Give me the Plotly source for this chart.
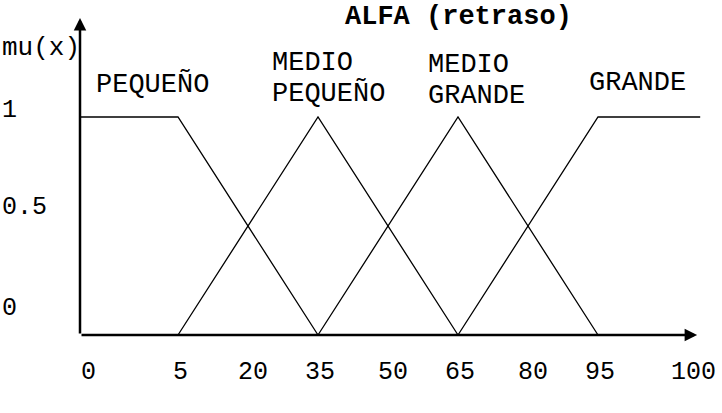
import numpy as np
import plotly.graph_objects as go

# ---- data -----------------------------------------------------------
title_text = "ALFA (retraso)"
y_axis_label = "mu(x)"

pequeno_x = [0, 5, 35]
pequeno_mu = [1, 1, 0]
medio_pequeno_x = [5, 35, 65]
medio_pequeno_mu = [0, 1, 0]
medio_grande_x = [35, 65, 95]
medio_grande_mu = [0, 1, 0]
grande_x = [65, 95, 100]
grande_mu = [0, 1, 1]

x_tick_values = [0, 5, 20, 35, 50, 65, 80, 95, 100]
y_tick_values = [1, 0.5, 0]
y_tick_labels = ["1", "0.5", "0"]

# ---- scale (end segments 0-5 and 95-100 are drawn stretched) ---------
def disp(v):
    return np.interp(v, [0, 5, 95, 100], [-16, 5, 95, 116.9])

FONT = "Liberation Mono, Courier New, monospace"
W, H = 722, 413

fig = go.Figure()
for xs, mus in [(pequeno_x, pequeno_mu), (medio_pequeno_x, medio_pequeno_mu),
                (medio_grande_x, medio_grande_mu), (grande_x, grande_mu)]:
    fig.add_trace(go.Scatter(x=disp(xs), y=mus, mode="lines",
                             line=dict(color="black", width=1.3),
                             hoverinfo="skip", showlegend=False))

annotations = []
# axes with arrows
annotations.append(dict(x=disp(99.85), y=0, ax=disp(0), ay=0, xref="x", yref="y",
                        axref="x", ayref="y", text="", showarrow=True,
                        arrowhead=2, arrowsize=1, arrowwidth=2.5, arrowcolor="black"))
annotations.append(dict(x=disp(0), y=1.454, ax=disp(0), ay=0, xref="x", yref="y",
                        axref="x", ayref="y", text="", showarrow=True,
                        arrowhead=2, arrowsize=1, arrowwidth=2.5, arrowcolor="black"))

def px(xp, yp, text, size, anchor="center", bold=False):
    return dict(x=xp / W, y=1 - yp / H, xref="paper", yref="paper",
                text=("<b>%s</b>" % text) if bold else text, showarrow=False,
                xanchor=anchor, yanchor="middle",
                font=dict(family=FONT, size=size, color="black"))

# title and y label
annotations.append(px(458, 17, title_text, 27, bold=True))
annotations.append(px(0, 48, y_axis_label, 26, anchor="left"))

# set names
annotations.append(px(94, 84, "PEQUEÑO", 27, anchor="left"))
annotations.append(px(270, 63, "MEDIO", 27, anchor="left"))
annotations.append(px(270, 93, "PEQUEÑO", 27, anchor="left"))
annotations.append(px(426, 65, "MEDIO", 27, anchor="left"))
annotations.append(px(426, 96, "GRANDE", 27, anchor="left"))
annotations.append(px(587, 83, "GRANDE", 27, anchor="left"))

# x tick labels
for v in x_tick_values:
    shift = 2
    if v == 0:
        shift = 8
    elif v == 100:
        shift = -7
    elif v in (20, 50, 80):
        shift = 5
    annotations.append(dict(x=float(disp(v)), y=0, xref="x", yref="y",
                            text=str(v), showarrow=False, xanchor="center",
                            yanchor="middle", xshift=shift, yshift=-37,
                            font=dict(family=FONT, size=25, color="black")))

# y tick labels
y_shifts = {1: 7, 0.5: 19, 0: 27}
for v, lab in zip(y_tick_values, y_tick_labels):
    annotations.append(dict(x=0, y=v, xref="paper", yref="y", text=lab,
                            showarrow=False, xanchor="left", yanchor="middle",
                            yshift=y_shifts[v],
                            font=dict(family=FONT, size=25, color="black")))

px_per_unit = (598 - 178) / 90.0
x_lo = 5 - 178 / px_per_unit
x_hi = 5 + (W - 178) / px_per_unit
y_lo = -(H - 335) / 218.0
y_hi = 1 + 117 / 218.0

fig.update_layout(
    width=W, height=H,
    margin=dict(l=0, r=0, t=0, b=0),
    paper_bgcolor="white", plot_bgcolor="white",
    xaxis=dict(range=[x_lo, x_hi], visible=False, fixedrange=True),
    yaxis=dict(range=[y_lo, y_hi], visible=False, fixedrange=True),
    annotations=annotations,
    showlegend=False,
)

fig.write_html("out.html", config={"displayModeBar": False},
               post_script="document.body.style.margin='0';document.body.style.overflow='hidden';")
